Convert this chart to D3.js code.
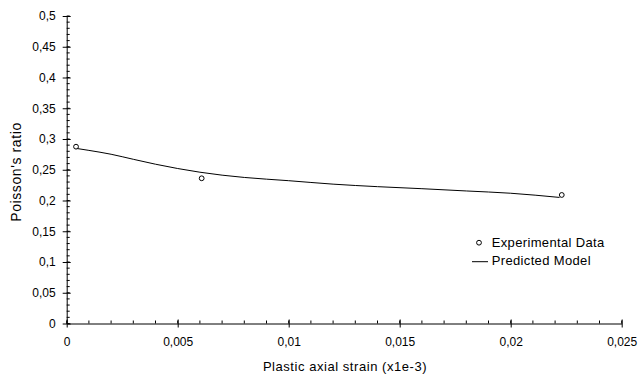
<!DOCTYPE html>
<html>
<head>
<meta charset="utf-8">
<script src="https://cdn.jsdelivr.net/npm/d3@7"></script>
<style>
  html, body { margin: 0; padding: 0; background: #fff; }
  svg { display: block; font-family: "Liberation Sans", Arial, sans-serif; }
</style>
</head>
<body>
<svg id="chart" width="641" height="376"></svg>
<script>
// Measured points
const expStrain = [0.00042, 0.00608, 0.0223];
const expRatio = [0.2875, 0.2361, 0.209];

// Model curve
const modelStrain = [0.0004, 0.001, 0.002, 0.003, 0.004, 0.005, 0.006, 0.007, 0.008, 0.010, 0.012, 0.014, 0.016, 0.018, 0.020, 0.0222];
const modelRatio  = [0.2849, 0.2815, 0.2752, 0.2670, 0.2590, 0.2520, 0.2460, 0.2412, 0.2375, 0.2322, 0.2266, 0.2225, 0.2192, 0.2155, 0.2118, 0.2050];

const xTicks = [0, 0.005, 0.01, 0.015, 0.02, 0.025];
const yTicks = [0, 0.05, 0.1, 0.15, 0.2, 0.25, 0.3, 0.35, 0.4, 0.45, 0.5];
const legendLabels = ["Experimental Data", "Predicted Model"];

const svg = d3.select("#chart");
const plot = { left: 66.7, right: 621.7, top: 16, bottom: 323.5 };

const x = d3.scaleLinear().domain([0, 0.025]).range([plot.left, plot.right]);
const y = d3.scaleLinear().domain([0, 0.5]).range([plot.bottom, plot.top]);
const fmt = v => String(+v.toFixed(4)).replace(".", ",");

// Minor ticks (inside the plot)
const xMinor = d3.range(0, 26).map(i => i * 0.001);
const yMinor = d3.range(0, 51).map(i => i * 0.01);
svg.append("g").selectAll("line").data(xMinor).join("line")
  .attr("x1", d => x(d)).attr("x2", d => x(d))
  .attr("y1", plot.bottom).attr("y2", plot.bottom - 3)
  .attr("stroke", "#000").attr("stroke-width", 1);
svg.append("g").selectAll("line").data(yMinor).join("line")
  .attr("x1", plot.left).attr("x2", plot.left + 3)
  .attr("y1", d => y(d)).attr("y2", d => y(d))
  .attr("stroke", "#000").attr("stroke-width", 1);

// Axes with crossing major ticks
const xAxis = svg.append("g").attr("transform", `translate(0,${plot.bottom})`)
  .call(d3.axisBottom(x).tickValues(xTicks).tickFormat(fmt).tickSizeInner(4).tickSizeOuter(0).tickPadding(10));
xAxis.selectAll(".tick line").attr("y1", -4);
const yAxis = svg.append("g").attr("transform", `translate(${plot.left},0)`)
  .call(d3.axisLeft(y).tickValues(yTicks).tickFormat(fmt).tickSizeInner(4).tickSizeOuter(0).tickPadding(7));
yAxis.selectAll(".tick line").attr("x1", 4);
svg.selectAll(".domain").attr("stroke", "#000");
svg.selectAll(".tick text").attr("font-size", 12).attr("fill", "#000")
  .attr("font-family", "Liberation Sans, Arial, sans-serif");

// Axis titles
svg.append("text").attr("x", 345).attr("y", 371).attr("text-anchor", "middle")
  .attr("font-size", 13).attr("letter-spacing", 0.55).text("Plastic axial strain (x1e-3)");
svg.append("text").attr("transform", `translate(20.5,172) rotate(-90)`)
  .attr("text-anchor", "middle").attr("font-size", 14).attr("letter-spacing", 0.6)
  .text("Poisson's ratio");

// Model line
const modelData = modelStrain.map((s, i) => [s, modelRatio[i]]);
svg.append("path").datum(modelData)
  .attr("d", d3.line().x(d => x(d[0])).y(d => y(d[1])).curve(d3.curveMonotoneX))
  .attr("fill", "none").attr("stroke", "#000").attr("stroke-width", 1);

// Experimental points
svg.append("g").selectAll("circle").data(expStrain.map((s, i) => [s, expRatio[i]])).join("circle")
  .attr("cx", d => x(d[0])).attr("cy", d => y(d[1])).attr("r", 2.4)
  .attr("fill", "#fff").attr("stroke", "#000").attr("stroke-width", 1);

// Legend
const lg = svg.append("g");
lg.append("circle").attr("cx", 479).attr("cy", 242.7).attr("r", 2.4)
  .attr("fill", "#fff").attr("stroke", "#000");
lg.append("line").attr("x1", 472).attr("x2", 488).attr("y1", 261.7).attr("y2", 261.7)
  .attr("stroke", "#000");
lg.selectAll("text").data(legendLabels).join("text")
  .attr("x", 491.7).attr("y", (d, i) => 247.3 + i * 18)
  .attr("font-size", 13).attr("letter-spacing", 0.35).text(d => d);
</script>
</body>
</html>
